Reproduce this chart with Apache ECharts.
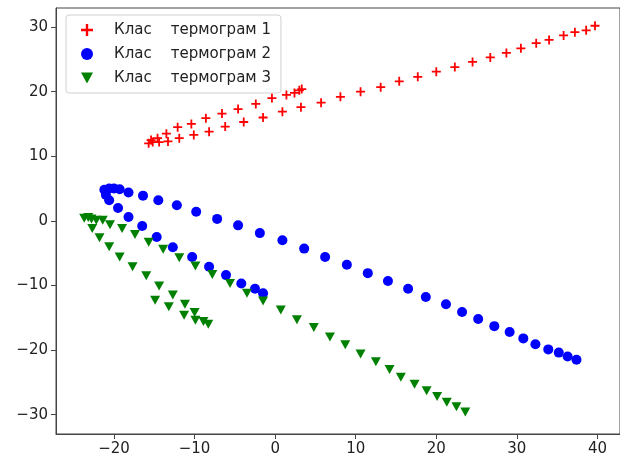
<!DOCTYPE html>
<html>
<head>
<meta charset="utf-8">
<script src="https://cdn.jsdelivr.net/npm/echarts@6/dist/echarts.min.js"></script>
<style>
html,body{margin:0;padding:0;background:#fff;}
#chart{width:620px;height:465px;}
</style>
</head>
<body>
<div id="chart"></div>
<script>
// клас 1 - дві гілки з точки (-16, 12)
var class1 = [
	[-15.7,12.0],[-15.2,12.2],[-14.4,12.2],[-13.3,12.3],[-11.9,12.8],[-10.1,13.3],[-8.2,13.8],[-6.2,14.6],
	[-3.9,15.3],[-1.5,16.0],[0.9,16.9],[3.2,17.6],[5.7,18.3],[8.1,19.2],[10.6,20.0],[13.1,20.7],
	[15.4,21.6],[17.7,22.3],[20.0,23.1],[22.3,23.8],[24.5,24.6],[26.7,25.3],[28.7,26.0],[30.5,26.7],
	[32.4,27.5],[34.0,28.0],[35.8,28.7],[37.2,29.2],[38.6,29.5],[39.7,30.2],
	[-15.4,12.5],[-14.6,12.8],[-13.5,13.5],[-12.1,14.5],[-10.4,15.0],[-8.6,15.9],[-6.6,16.6],[-4.6,17.3],
	[-2.4,18.1],[-0.4,19.0],[1.4,19.5],[2.4,19.8],[3.0,20.2],[3.3,20.4]
];
var class2 = [
	[-21.2,4.8],[-20.6,5.0],[-20.0,5.0],[-19.3,4.9],[-21.0,4.0],[-20.6,3.2],[-19.5,2.0],
	[-18.2,4.4],[-16.4,3.9],[-14.5,3.2],[-12.2,2.4],[-9.8,1.4],[-7.2,0.3],[-4.6,-0.7],[-1.9,-1.9],
	[0.9,-3.0],[3.6,-4.3],[6.2,-5.6],[8.9,-6.8],[11.5,-8.1],[14.0,-9.3],[16.5,-10.5],[18.7,-11.8],
	[21.2,-12.9],[23.2,-14.1],[25.2,-15.2],[27.2,-16.3],[29.1,-17.2],[30.8,-18.2],[32.3,-19.1],
	[33.9,-19.9],[35.2,-20.4],[36.3,-21.0],[37.4,-21.5],
	[-18.2,0.6],[-16.5,-0.8],[-14.7,-2.5],[-12.7,-4.1],[-10.3,-5.6],[-8.2,-7.1],[-6.1,-8.4],
	[-4.2,-9.7],[-2.5,-10.5],[-1.5,-11.2]
];
var class3 = [
	[-23.7,0.4],[-23.2,0.5],[-22.8,0.3],[-22.2,0.1],[-21.4,0.1],[-22.7,-1.2],[-21.8,-2.6],
	[-20.5,-0.6],[-19.0,-1.2],[-17.4,-2.1],[-15.7,-3.3],[-13.9,-4.4],[-11.9,-5.7],[-9.9,-7.0],[-7.8,-8.3],
	[-5.6,-9.7],[-3.5,-11.2],[-1.5,-12.4],[0.7,-13.8],[2.7,-15.3],[4.8,-16.5],[6.8,-18.0],[8.7,-19.2],
	[10.6,-20.6],[12.5,-21.8],[14.2,-23.0],[15.6,-24.2],[17.3,-25.3],[18.8,-26.3],[20.1,-27.2],
	[21.3,-28.1],[22.5,-28.8],[23.6,-29.6],
	[-20.6,-4.0],[-19.3,-5.6],[-17.7,-7.1],[-16.0,-8.5],[-14.4,-10.1],[-14.9,-12.3],[-12.7,-11.5],
	[-13.2,-13.3],[-11.2,-12.9],[-11.3,-14.6],[-10.0,-14.2],[-9.9,-15.4],[-8.9,-15.6],[-8.3,-16.0]
];
var names = ['Клас    термограм 1', 'Клас    термограм 2', 'Клас    термограм 3'];
var xTicks = [-20, -10, 0, 10, 20, 30, 40];
var yTicks = [-30, -20, -10, 0, 10, 20, 30];

var plusPath = 'path://M4,0H6V4H10V6H6V10H4V6H0V4H4Z';
var trianglePath = 'path://M0,0L10,0L5,9Z';

function minus(v){ return String(v).replace('-', '\u2212'); }

var axisCommon = {
	type : 'value',
	splitLine : {show: false},
	axisLine : {onZero: false, lineStyle: {color: '#444', width: 1}},
	axisTick : {length: 5, lineStyle: {color: '#444'}},
	axisLabel : {color: '#222', fontSize: 15, fontFamily: 'DejaVu Sans', formatter: minus}
};

var myChart = echarts.init(document.getElementById('chart'), null, {renderer: 'canvas'});
myChart.setOption({
	animation : false,
	grid : {
		left: 56, top: 8, right: -4.5, bottom: 31,
		show: true, borderColor: '#444', borderWidth: 1
	},
	legend : {
		orient: 'vertical',
		left: 66, top: 15,
		padding: [7, 10, 7, 15],
		itemGap: 8,
		itemWidth: 12, itemHeight: 12,
		borderColor: '#d0d0d0', borderWidth: 1, borderRadius: 3,
		backgroundColor: 'rgba(255,255,255,0.8)',
		textStyle: {fontSize: 15, fontFamily: 'DejaVu Sans', color: '#222', lineHeight: 16, padding: [0, 0, 0, 16]},
		data: names
	},
	xAxis : Object.assign({}, axisCommon, {
		min: -27.2, max: 42.8,
		axisTick: {length: 5, lineStyle: {color: '#444'}, customValues: xTicks},
		axisLabel: Object.assign({}, axisCommon.axisLabel, {customValues: xTicks, margin: 8})
	}),
	yAxis : Object.assign({}, axisCommon, {
		min: -33, max: 32.95,
		axisTick: {length: 5, lineStyle: {color: '#444'}, customValues: yTicks},
		axisLabel: Object.assign({}, axisCommon.axisLabel, {customValues: yTicks, margin: 8})
	}),
	series : [
	{
		name: names[0],
		type: 'scatter',
		data: class1,
		symbol: plusPath,
		symbolSize: 9,
		itemStyle: {color: '#ff0000', opacity: 1}
	},
	{
		name: names[1],
		type: 'scatter',
		data: class2,
		symbol: 'circle',
		symbolSize: 10,
		itemStyle: {color: '#0000ff', opacity: 1}
	},
	{
		name: names[2],
		type: 'scatter',
		data: class3,
		symbol: trianglePath,
		symbolSize: [10, 9],
		itemStyle: {color: '#008000', opacity: 1}
	}
	]
});
</script>
</body>
</html>
